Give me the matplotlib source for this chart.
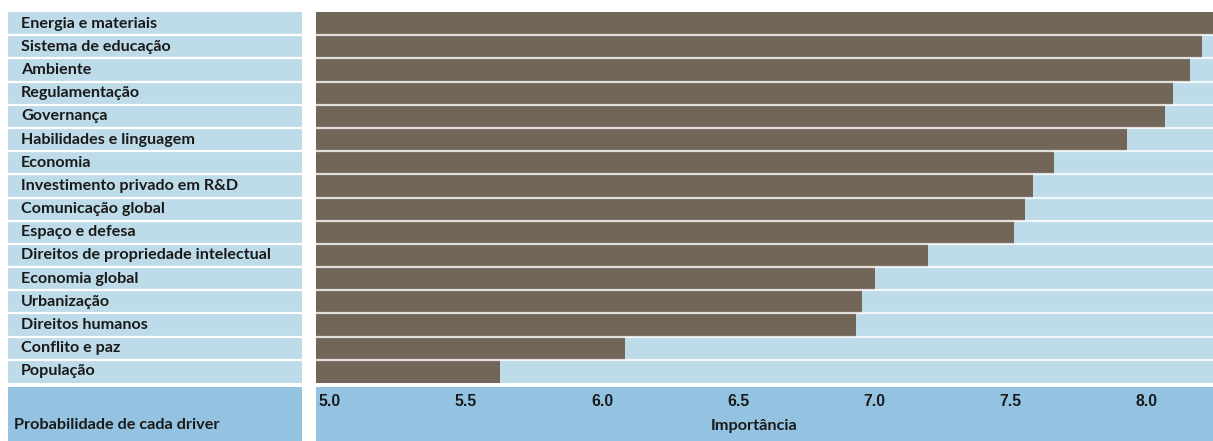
import matplotlib
matplotlib.use("Agg")
import matplotlib.pyplot as plt
import numpy as np

categories = [
    "Energia e materiais", "Sistema de educação", "Ambiente", "Regulamentação",
    "Governança", "Habilidades e linguagem", "Economia", "Investimento privado em R&D",
    "Comunicação global", "Espaço e defesa", "Direitos de propriedade intelectual",
    "Economia global", "Urbanização", "Direitos humanos", "Conflito e paz", "População",
]
values = [8.26, 8.205, 8.16, 8.10, 8.07, 7.93, 7.66, 7.585, 7.555, 7.515,
          7.20, 7.005, 6.955, 6.935, 6.085, 5.625]
tick_values = [5.0, 5.5, 6.0, 6.5, 7.0, 7.5, 8.0]
tick_labels = ["5.0", "5.5", "6.0", "6.5", "7.0", "7.5", "8.0"]
x_label = "Importância"
corner_label = "Probabilidade de cada driver"

W, H = 1213, 441
fig = plt.figure(figsize=(W / 100, H / 100), dpi=100)
fig.patch.set_facecolor("white")

LIGHT = "#bddbe8"
DARK = "#93c3e0"
BROWN = "#726658"
TXT = "#1a1a1a"

def ax_px(x0, y0, x1, y1):
    return fig.add_axes([x0 / W, 1 - y1 / H, (x1 - x0) / W, (y1 - y0) / H])

n = len(categories)
ypos = np.arange(n)
xmin = 5.0 - 14 / 272
xmax = 5.0 + (1213 - 330) / 272

# left label panel
axl = ax_px(8, 12, 302, 383)
axl.set_xlim(0, 1)
axl.set_ylim(n - 0.5, -0.5)
axl.barh(ypos, [1] * n, left=0, height=1.0, color=LIGHT)
for b in np.arange(n - 1) + 0.5:
    axl.axhline(b, color="white", lw=1.6)
for i, c in enumerate(categories):
    axl.text(13 / 294, i, c, ha="left", va="center", fontsize=11.6,
             fontweight="bold", family="Lato", color=TXT)
axl.axis("off")

# bars panel
axb = ax_px(316, 12, 1213, 383)
axb.set_xlim(xmin, xmax)
axb.set_ylim(n - 0.5, -0.5)
axb.barh(ypos, [xmax - xmin] * n, left=xmin, height=1.0, color=LIGHT)
axb.barh(ypos, np.array(values) - xmin, left=xmin, height=1.0, color=BROWN)
for b in np.arange(n - 1) + 0.5:
    axb.axhline(b, color="white", lw=1.6, alpha=0.8)
axb.axis("off")

# bottom left band
axc = ax_px(8, 387, 302, 441)
axc.set_facecolor(DARK)
axc.set_xticks([]); axc.set_yticks([])
for s in axc.spines.values():
    s.set_visible(False)
axc.text(6 / 294, 0.30, corner_label, ha="left", va="center", fontsize=11.7,
         fontweight="bold", family="Lato", color=TXT, transform=axc.transAxes)

# bottom axis band
axa = ax_px(316, 387, 1213, 441)
axa.set_facecolor(DARK)
axa.set_xlim(xmin, xmax)
axa.set_ylim(0, 1)
axa.set_yticks([]); axa.set_xticks([])
for s in axa.spines.values():
    s.set_visible(False)
for v, lab in zip(tick_values, tick_labels):
    axa.text(v, 0.74, lab, ha="center", va="center", fontsize=11.3,
             fontweight="bold", family="Liberation Sans", color=TXT)
axa.text((754 - 316) / 897, 0.28, x_label, ha="center", va="center", fontsize=11.7,
         fontweight="bold", family="Lato", color=TXT, transform=axa.transAxes)

fig.savefig("out.png", dpi=100, facecolor="white")
